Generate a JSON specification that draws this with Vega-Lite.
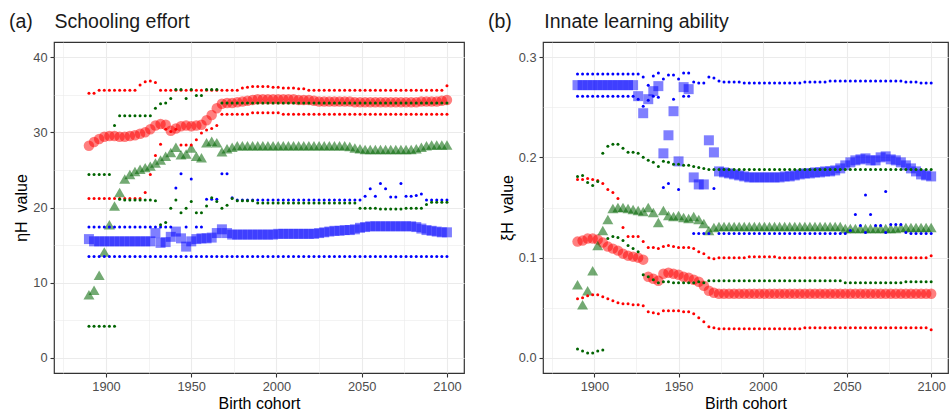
{
"$schema":"https://vega.github.io/schema/vega-lite/v6.json",
"background":"white",
"autosize":{"type":"pad"},
"padding":{"left":8,"top":10,"right":1,"bottom":2},
"config":{
 "font":"Liberation Sans",
 "view":{"stroke":"#333333","strokeWidth":1.2},
 "axis":{"domain":false,"gridColor":"#ebebeb","tickColor":"#333333","tickSize":4,"tickWidth":1.1,"labelColor":"#4d4d4d","labelFontSize":12.8,"titleFontSize":16,"titleFontWeight":"normal","titleColor":"#000000","labelPadding":3,"titlePadding":3,"labelOverlap":false},
 "title":{"fontSize":19.5,"fontWeight":"normal","color":"#1a1a1a"},
 "concat":{"spacing":22}
},
"datasets":{
"aRc":[{"x":1890,"y":28.2},{"x":1893,"y":28.7},{"x":1896,"y":29.1},{"x":1899,"y":29.4},{"x":1902,"y":29.5},{"x":1905,"y":29.5},{"x":1908,"y":29.4},{"x":1911,"y":29.4},{"x":1914,"y":29.5},{"x":1917,"y":29.6},{"x":1920,"y":29.8},{"x":1923,"y":30.0},{"x":1926,"y":30.4},{"x":1929,"y":30.9},{"x":1932,"y":31.1},{"x":1935,"y":31.0},{"x":1938,"y":30.2},{"x":1941,"y":30.5},{"x":1944,"y":30.8},{"x":1947,"y":30.9},{"x":1950,"y":30.8},{"x":1953,"y":30.9},{"x":1956,"y":31.0},{"x":1959,"y":31.6},{"x":1962,"y":32.3},{"x":1965,"y":33.2},{"x":1968,"y":33.8},{"x":1971,"y":33.9},{"x":1974,"y":33.9},{"x":1977,"y":34.0},{"x":1980,"y":34.1},{"x":1983,"y":34.2},{"x":1986,"y":34.3},{"x":1989,"y":34.4},{"x":1992,"y":34.4},{"x":1995,"y":34.4},{"x":1998,"y":34.4},{"x":2001,"y":34.4},{"x":2004,"y":34.4},{"x":2007,"y":34.4},{"x":2010,"y":34.4},{"x":2013,"y":34.3},{"x":2016,"y":34.3},{"x":2019,"y":34.3},{"x":2022,"y":34.2},{"x":2025,"y":34.1},{"x":2028,"y":34.1},{"x":2031,"y":34.1},{"x":2034,"y":34.1},{"x":2037,"y":34.1},{"x":2040,"y":34.1},{"x":2043,"y":34.1},{"x":2046,"y":34.0},{"x":2049,"y":34.0},{"x":2052,"y":34.0},{"x":2055,"y":34.0},{"x":2058,"y":34.0},{"x":2061,"y":34.0},{"x":2064,"y":34.0},{"x":2067,"y":34.0},{"x":2070,"y":34.0},{"x":2073,"y":34.0},{"x":2076,"y":34.0},{"x":2079,"y":34.0},{"x":2082,"y":34.0},{"x":2085,"y":34.1},{"x":2088,"y":34.1},{"x":2091,"y":34.1},{"x":2094,"y":34.1},{"x":2097,"y":34.2},{"x":2100,"y":34.3}],
"aRd":[{"x":1890,"y":35.2},{"x":1893,"y":35.2},{"x":1896,"y":35.6},{"x":1899,"y":35.6},{"x":1902,"y":35.6},{"x":1905,"y":35.6},{"x":1908,"y":35.6},{"x":1911,"y":35.6},{"x":1914,"y":35.6},{"x":1917,"y":35.6},{"x":1920,"y":36.3},{"x":1923,"y":36.7},{"x":1926,"y":36.8},{"x":1929,"y":36.6},{"x":1932,"y":35.6},{"x":1935,"y":35.6},{"x":1938,"y":35.6},{"x":1941,"y":35.6},{"x":1944,"y":35.6},{"x":1947,"y":35.6},{"x":1950,"y":35.6},{"x":1953,"y":35.6},{"x":1956,"y":35.6},{"x":1959,"y":35.6},{"x":1962,"y":35.6},{"x":1965,"y":35.6},{"x":1968,"y":35.6},{"x":1971,"y":35.6},{"x":1974,"y":35.6},{"x":1977,"y":35.6},{"x":1980,"y":35.9},{"x":1983,"y":36.0},{"x":1986,"y":36.1},{"x":1989,"y":36.1},{"x":1992,"y":36.1},{"x":1995,"y":36.1},{"x":1998,"y":36.0},{"x":2001,"y":36.0},{"x":2004,"y":35.9},{"x":2007,"y":35.9},{"x":2010,"y":35.9},{"x":2013,"y":35.8},{"x":2016,"y":35.8},{"x":2019,"y":35.6},{"x":2022,"y":35.6},{"x":2025,"y":35.6},{"x":2028,"y":35.6},{"x":2031,"y":35.6},{"x":2034,"y":35.6},{"x":2037,"y":35.6},{"x":2040,"y":35.6},{"x":2043,"y":35.6},{"x":2046,"y":35.6},{"x":2049,"y":35.6},{"x":2052,"y":35.6},{"x":2055,"y":35.6},{"x":2058,"y":35.6},{"x":2061,"y":35.6},{"x":2064,"y":35.6},{"x":2067,"y":35.6},{"x":2070,"y":35.6},{"x":2073,"y":35.6},{"x":2076,"y":35.6},{"x":2079,"y":35.6},{"x":2082,"y":35.6},{"x":2085,"y":35.6},{"x":2088,"y":35.6},{"x":2091,"y":35.6},{"x":2094,"y":35.6},{"x":2097,"y":35.6},{"x":2100,"y":36.2},
{"x":1890,"y":21.2},{"x":1893,"y":21.2},{"x":1896,"y":21.2},{"x":1899,"y":21.2},{"x":1902,"y":21.2},{"x":1905,"y":21.2},{"x":1908,"y":21.2},{"x":1911,"y":21.2},{"x":1914,"y":21.2},{"x":1917,"y":21.2},{"x":1920,"y":21.2},{"x":1923,"y":22.0},{"x":1926,"y":24.4},{"x":1929,"y":26.9},{"x":1932,"y":28.4},{"x":1935,"y":30.4},{"x":1938,"y":30.1},{"x":1941,"y":30.4},{"x":1944,"y":28.3},{"x":1947,"y":28.3},{"x":1950,"y":28.3},{"x":1953,"y":29.0},{"x":1956,"y":29.9},{"x":1959,"y":30.3},{"x":1962,"y":30.5},{"x":1965,"y":30.9},{"x":1968,"y":32.4},{"x":1971,"y":32.4},{"x":1974,"y":32.4},{"x":1977,"y":32.4},{"x":1980,"y":32.4},{"x":1983,"y":32.4},{"x":1986,"y":32.6},{"x":1989,"y":32.6},{"x":1992,"y":32.6},{"x":1995,"y":32.6},{"x":1998,"y":32.6},{"x":2001,"y":32.6},{"x":2004,"y":32.4},{"x":2007,"y":32.4},{"x":2010,"y":32.4},{"x":2013,"y":32.4},{"x":2016,"y":32.4},{"x":2019,"y":32.4},{"x":2022,"y":32.4},{"x":2025,"y":32.4},{"x":2028,"y":32.4},{"x":2031,"y":32.4},{"x":2034,"y":32.4},{"x":2037,"y":32.4},{"x":2040,"y":32.4},{"x":2043,"y":32.4},{"x":2046,"y":32.4},{"x":2049,"y":32.4},{"x":2052,"y":32.4},{"x":2055,"y":32.4},{"x":2058,"y":32.4},{"x":2061,"y":32.4},{"x":2064,"y":32.4},{"x":2067,"y":32.4},{"x":2070,"y":32.4},{"x":2073,"y":32.4},{"x":2076,"y":32.4},{"x":2079,"y":32.4},{"x":2082,"y":32.4},{"x":2085,"y":32.4},{"x":2088,"y":32.4},{"x":2091,"y":32.4},{"x":2094,"y":32.4},{"x":2097,"y":32.4},{"x":2100,"y":32.4}],
"aGc":[{"x":1890,"y":8.4},{"x":1893,"y":9.0},{"x":1896,"y":11.0},{"x":1899,"y":14.1},{"x":1902,"y":17.7},{"x":1905,"y":20.2},{"x":1908,"y":22.0},{"x":1911,"y":23.8},{"x":1914,"y":24.4},{"x":1917,"y":24.8},{"x":1920,"y":25.1},{"x":1923,"y":25.3},{"x":1926,"y":25.5},{"x":1929,"y":25.9},{"x":1932,"y":26.3},{"x":1935,"y":26.8},{"x":1938,"y":27.3},{"x":1941,"y":28.0},{"x":1944,"y":27.0},{"x":1947,"y":27.1},{"x":1950,"y":27.9},{"x":1953,"y":26.8},{"x":1956,"y":26.6},{"x":1959,"y":28.6},{"x":1962,"y":28.8},{"x":1965,"y":28.6},{"x":1968,"y":27.4},{"x":1971,"y":27.8},{"x":1974,"y":28.0},{"x":1977,"y":28.2},{"x":1980,"y":28.2},{"x":1983,"y":28.2},{"x":1986,"y":28.2},{"x":1989,"y":28.2},{"x":1992,"y":28.2},{"x":1995,"y":28.2},{"x":1998,"y":28.2},{"x":2001,"y":28.2},{"x":2004,"y":28.2},{"x":2007,"y":28.2},{"x":2010,"y":28.2},{"x":2013,"y":28.2},{"x":2016,"y":28.2},{"x":2019,"y":28.2},{"x":2022,"y":28.2},{"x":2025,"y":28.2},{"x":2028,"y":28.2},{"x":2031,"y":28.2},{"x":2034,"y":28.2},{"x":2037,"y":28.2},{"x":2040,"y":28.2},{"x":2043,"y":28.1},{"x":2046,"y":27.9},{"x":2049,"y":27.8},{"x":2052,"y":27.7},{"x":2055,"y":27.7},{"x":2058,"y":27.7},{"x":2061,"y":27.7},{"x":2064,"y":27.7},{"x":2067,"y":27.7},{"x":2070,"y":27.7},{"x":2073,"y":27.7},{"x":2076,"y":27.7},{"x":2079,"y":27.7},{"x":2082,"y":27.8},{"x":2085,"y":28.0},{"x":2088,"y":28.2},{"x":2091,"y":28.3},{"x":2094,"y":28.3},{"x":2097,"y":28.3},{"x":2100,"y":28.3}],
"aGd":[{"x":1890,"y":24.4},{"x":1893,"y":24.4},{"x":1896,"y":24.4},{"x":1899,"y":24.4},{"x":1902,"y":24.4},{"x":1905,"y":30.9},{"x":1908,"y":32.2},{"x":1911,"y":32.2},{"x":1914,"y":32.2},{"x":1917,"y":32.2},{"x":1920,"y":32.2},{"x":1923,"y":32.2},{"x":1926,"y":32.2},{"x":1929,"y":33.2},{"x":1932,"y":33.8},{"x":1935,"y":33.9},{"x":1938,"y":34.5},{"x":1941,"y":35.7},{"x":1944,"y":35.7},{"x":1947,"y":34.5},{"x":1950,"y":35.7},{"x":1953,"y":34.9},{"x":1956,"y":34.9},{"x":1959,"y":35.7},{"x":1962,"y":35.7},{"x":1965,"y":35.7},{"x":1968,"y":33.9},{"x":1971,"y":33.9},{"x":1974,"y":33.9},{"x":1977,"y":33.9},{"x":1980,"y":33.9},{"x":1983,"y":33.9},{"x":1986,"y":33.9},{"x":1989,"y":33.9},{"x":1992,"y":33.9},{"x":1995,"y":33.9},{"x":1998,"y":33.9},{"x":2001,"y":33.9},{"x":2004,"y":33.9},{"x":2007,"y":33.9},{"x":2010,"y":33.9},{"x":2013,"y":33.9},{"x":2016,"y":33.9},{"x":2019,"y":33.9},{"x":2022,"y":33.9},{"x":2025,"y":33.9},{"x":2028,"y":33.9},{"x":2031,"y":33.9},{"x":2034,"y":33.9},{"x":2037,"y":33.9},{"x":2040,"y":33.9},{"x":2043,"y":33.9},{"x":2046,"y":33.9},{"x":2049,"y":33.9},{"x":2052,"y":33.9},{"x":2055,"y":33.9},{"x":2058,"y":33.9},{"x":2061,"y":33.9},{"x":2064,"y":33.9},{"x":2067,"y":33.9},{"x":2070,"y":33.9},{"x":2073,"y":33.9},{"x":2076,"y":33.9},{"x":2079,"y":33.9},{"x":2082,"y":33.9},{"x":2085,"y":33.9},{"x":2088,"y":33.9},{"x":2091,"y":33.9},{"x":2094,"y":33.9},{"x":2097,"y":33.9},{"x":2100,"y":33.9},
{"x":1890,"y":4.2},{"x":1893,"y":4.2},{"x":1896,"y":4.2},{"x":1899,"y":4.2},{"x":1902,"y":4.2},{"x":1905,"y":4.2},{"x":1908,"y":21.1},{"x":1911,"y":21.0},{"x":1914,"y":21.0},{"x":1917,"y":21.0},{"x":1920,"y":21.0},{"x":1923,"y":21.0},{"x":1926,"y":21.0},{"x":1929,"y":20.9},{"x":1932,"y":17.7},{"x":1935,"y":18.0},{"x":1938,"y":19.9},{"x":1941,"y":21.0},{"x":1944,"y":19.3},{"x":1947,"y":19.9},{"x":1950,"y":20.8},{"x":1953,"y":19.3},{"x":1956,"y":19.3},{"x":1959,"y":20.2},{"x":1962,"y":21.3},{"x":1965,"y":20.8},{"x":1968,"y":19.9},{"x":1971,"y":20.3},{"x":1974,"y":21.2},{"x":1977,"y":20.9},{"x":1980,"y":20.9},{"x":1983,"y":20.9},{"x":1986,"y":20.9},{"x":1989,"y":20.6},{"x":1992,"y":20.6},{"x":1995,"y":20.6},{"x":1998,"y":20.6},{"x":2001,"y":20.6},{"x":2004,"y":20.6},{"x":2007,"y":20.6},{"x":2010,"y":20.6},{"x":2013,"y":20.6},{"x":2016,"y":20.6},{"x":2019,"y":20.6},{"x":2022,"y":20.6},{"x":2025,"y":20.6},{"x":2028,"y":20.6},{"x":2031,"y":20.6},{"x":2034,"y":20.6},{"x":2037,"y":20.6},{"x":2040,"y":20.6},{"x":2043,"y":20.6},{"x":2046,"y":20.6},{"x":2049,"y":19.9},{"x":2052,"y":19.9},{"x":2055,"y":19.9},{"x":2058,"y":19.9},{"x":2061,"y":19.8},{"x":2064,"y":19.8},{"x":2067,"y":19.8},{"x":2070,"y":19.8},{"x":2073,"y":19.8},{"x":2076,"y":19.9},{"x":2079,"y":19.9},{"x":2082,"y":19.9},{"x":2085,"y":19.9},{"x":2088,"y":20.4},{"x":2091,"y":20.7},{"x":2094,"y":20.7},{"x":2097,"y":20.7},{"x":2100,"y":20.7}],
"aBc":[{"x":1890,"y":15.8},{"x":1893,"y":15.5},{"x":1896,"y":15.5},{"x":1899,"y":15.5},{"x":1902,"y":15.5},{"x":1905,"y":15.5},{"x":1908,"y":15.5},{"x":1911,"y":15.5},{"x":1914,"y":15.5},{"x":1917,"y":15.5},{"x":1920,"y":15.5},{"x":1923,"y":15.5},{"x":1926,"y":15.5},{"x":1929,"y":16.6},{"x":1932,"y":15.3},{"x":1935,"y":15.4},{"x":1938,"y":16.1},{"x":1941,"y":16.8},{"x":1944,"y":15.9},{"x":1947,"y":14.8},{"x":1950,"y":15.5},{"x":1953,"y":15.8},{"x":1956,"y":15.9},{"x":1959,"y":15.9},{"x":1962,"y":16.0},{"x":1965,"y":16.6},{"x":1968,"y":17.1},{"x":1971,"y":16.6},{"x":1974,"y":16.4},{"x":1977,"y":16.4},{"x":1980,"y":16.4},{"x":1983,"y":16.4},{"x":1986,"y":16.4},{"x":1989,"y":16.4},{"x":1992,"y":16.4},{"x":1995,"y":16.4},{"x":1998,"y":16.4},{"x":2001,"y":16.5},{"x":2004,"y":16.5},{"x":2007,"y":16.5},{"x":2010,"y":16.5},{"x":2013,"y":16.5},{"x":2016,"y":16.5},{"x":2019,"y":16.5},{"x":2022,"y":16.5},{"x":2025,"y":16.6},{"x":2028,"y":16.7},{"x":2031,"y":16.8},{"x":2034,"y":16.9},{"x":2037,"y":16.9},{"x":2040,"y":17.0},{"x":2043,"y":17.0},{"x":2046,"y":17.1},{"x":2049,"y":17.3},{"x":2052,"y":17.4},{"x":2055,"y":17.5},{"x":2058,"y":17.5},{"x":2061,"y":17.5},{"x":2064,"y":17.5},{"x":2067,"y":17.5},{"x":2070,"y":17.5},{"x":2073,"y":17.5},{"x":2076,"y":17.5},{"x":2079,"y":17.5},{"x":2082,"y":17.4},{"x":2085,"y":17.2},{"x":2088,"y":17.0},{"x":2091,"y":16.9},{"x":2094,"y":16.8},{"x":2097,"y":16.7},{"x":2100,"y":16.7}],
"aBd":[{"x":1890,"y":13.5},{"x":1893,"y":13.5},{"x":1896,"y":13.5},{"x":1899,"y":13.5},{"x":1902,"y":13.5},{"x":1905,"y":13.5},{"x":1908,"y":13.5},{"x":1911,"y":13.5},{"x":1914,"y":13.5},{"x":1917,"y":13.5},{"x":1920,"y":13.5},{"x":1923,"y":13.5},{"x":1926,"y":13.5},{"x":1929,"y":13.5},{"x":1932,"y":13.5},{"x":1935,"y":13.5},{"x":1938,"y":13.5},{"x":1941,"y":13.5},{"x":1944,"y":13.5},{"x":1947,"y":13.5},{"x":1950,"y":13.5},{"x":1953,"y":13.5},{"x":1956,"y":13.5},{"x":1959,"y":13.5},{"x":1962,"y":13.5},{"x":1965,"y":13.5},{"x":1968,"y":13.5},{"x":1971,"y":13.5},{"x":1974,"y":13.5},{"x":1977,"y":13.5},{"x":1980,"y":13.5},{"x":1983,"y":13.5},{"x":1986,"y":13.5},{"x":1989,"y":13.5},{"x":1992,"y":13.5},{"x":1995,"y":13.5},{"x":1998,"y":13.5},{"x":2001,"y":13.5},{"x":2004,"y":13.5},{"x":2007,"y":13.5},{"x":2010,"y":13.5},{"x":2013,"y":13.5},{"x":2016,"y":13.5},{"x":2019,"y":13.5},{"x":2022,"y":13.5},{"x":2025,"y":13.5},{"x":2028,"y":13.5},{"x":2031,"y":13.5},{"x":2034,"y":13.5},{"x":2037,"y":13.5},{"x":2040,"y":13.5},{"x":2043,"y":13.5},{"x":2046,"y":13.5},{"x":2049,"y":13.5},{"x":2052,"y":13.5},{"x":2055,"y":13.5},{"x":2058,"y":13.5},{"x":2061,"y":13.5},{"x":2064,"y":13.5},{"x":2067,"y":13.5},{"x":2070,"y":13.5},{"x":2073,"y":13.5},{"x":2076,"y":13.5},{"x":2079,"y":13.5},{"x":2082,"y":13.5},{"x":2085,"y":13.5},{"x":2088,"y":13.5},{"x":2091,"y":13.5},{"x":2094,"y":13.5},{"x":2097,"y":13.5},{"x":2100,"y":13.5},
{"x":1890,"y":17.4},{"x":1893,"y":17.4},{"x":1896,"y":17.4},{"x":1899,"y":17.4},{"x":1902,"y":17.4},{"x":1905,"y":17.4},{"x":1908,"y":17.4},{"x":1911,"y":17.4},{"x":1914,"y":17.4},{"x":1917,"y":17.4},{"x":1920,"y":17.4},{"x":1923,"y":17.4},{"x":1926,"y":17.4},{"x":1929,"y":17.4},{"x":1932,"y":17.4},{"x":1935,"y":17.4},{"x":1938,"y":17.4},{"x":1941,"y":22.6},{"x":1944,"y":24.5},{"x":1947,"y":17.4},{"x":1950,"y":23.8},{"x":1953,"y":17.4},{"x":1956,"y":17.4},{"x":1959,"y":21.1},{"x":1962,"y":21.1},{"x":1965,"y":21.1},{"x":1968,"y":24.5},{"x":1971,"y":24.5},{"x":1974,"y":21.3},{"x":1977,"y":21.0},{"x":1980,"y":21.0},{"x":1983,"y":21.0},{"x":1986,"y":21.0},{"x":1989,"y":21.0},{"x":1992,"y":21.0},{"x":1995,"y":21.0},{"x":1998,"y":21.0},{"x":2001,"y":21.0},{"x":2004,"y":21.0},{"x":2007,"y":21.0},{"x":2010,"y":21.0},{"x":2013,"y":21.0},{"x":2016,"y":21.0},{"x":2019,"y":21.0},{"x":2022,"y":21.0},{"x":2025,"y":21.0},{"x":2028,"y":21.0},{"x":2031,"y":21.0},{"x":2034,"y":21.0},{"x":2037,"y":21.0},{"x":2040,"y":21.0},{"x":2043,"y":21.0},{"x":2046,"y":21.0},{"x":2049,"y":21.0},{"x":2052,"y":21.5},{"x":2055,"y":22.5},{"x":2058,"y":21.5},{"x":2061,"y":23.2},{"x":2064,"y":22.5},{"x":2067,"y":21.4},{"x":2070,"y":21.4},{"x":2073,"y":23.2},{"x":2076,"y":21.5},{"x":2079,"y":21.5},{"x":2082,"y":21.6},{"x":2085,"y":21.8},{"x":2088,"y":21.0},{"x":2091,"y":21.0},{"x":2094,"y":21.0},{"x":2097,"y":21.0},{"x":2100,"y":21.0}],
"bRc":[{"x":1890,"y":0.116},{"x":1893,"y":0.117},{"x":1896,"y":0.119},{"x":1899,"y":0.119},{"x":1902,"y":0.118},{"x":1905,"y":0.115},{"x":1908,"y":0.111},{"x":1911,"y":0.109},{"x":1914,"y":0.107},{"x":1917,"y":0.104},{"x":1920,"y":0.102},{"x":1923,"y":0.101},{"x":1926,"y":0.100},{"x":1929,"y":0.098},{"x":1932,"y":0.081},{"x":1935,"y":0.079},{"x":1938,"y":0.077},{"x":1941,"y":0.084},{"x":1944,"y":0.085},{"x":1947,"y":0.084},{"x":1950,"y":0.083},{"x":1953,"y":0.081},{"x":1956,"y":0.080},{"x":1959,"y":0.078},{"x":1962,"y":0.076},{"x":1965,"y":0.072},{"x":1968,"y":0.067},{"x":1971,"y":0.065},{"x":1974,"y":0.064},{"x":1977,"y":0.064},{"x":1980,"y":0.064},{"x":1983,"y":0.064},{"x":1986,"y":0.064},{"x":1989,"y":0.064},{"x":1992,"y":0.064},{"x":1995,"y":0.064},{"x":1998,"y":0.064},{"x":2001,"y":0.064},{"x":2004,"y":0.064},{"x":2007,"y":0.064},{"x":2010,"y":0.064},{"x":2013,"y":0.064},{"x":2016,"y":0.064},{"x":2019,"y":0.064},{"x":2022,"y":0.064},{"x":2025,"y":0.064},{"x":2028,"y":0.064},{"x":2031,"y":0.064},{"x":2034,"y":0.064},{"x":2037,"y":0.064},{"x":2040,"y":0.064},{"x":2043,"y":0.064},{"x":2046,"y":0.064},{"x":2049,"y":0.064},{"x":2052,"y":0.064},{"x":2055,"y":0.064},{"x":2058,"y":0.064},{"x":2061,"y":0.064},{"x":2064,"y":0.064},{"x":2067,"y":0.064},{"x":2070,"y":0.064},{"x":2073,"y":0.064},{"x":2076,"y":0.064},{"x":2079,"y":0.064},{"x":2082,"y":0.064},{"x":2085,"y":0.064},{"x":2088,"y":0.064},{"x":2091,"y":0.064},{"x":2094,"y":0.064},{"x":2097,"y":0.064},{"x":2100,"y":0.064}],
"bRd":[{"x":1890,"y":0.178},{"x":1893,"y":0.178},{"x":1896,"y":0.179},{"x":1899,"y":0.178},{"x":1902,"y":0.177},{"x":1905,"y":0.174},{"x":1908,"y":0.168},{"x":1911,"y":0.165},{"x":1914,"y":0.159},{"x":1917,"y":0.130},{"x":1920,"y":0.121},{"x":1923,"y":0.121},{"x":1926,"y":0.121},{"x":1929,"y":0.116},{"x":1932,"y":0.110},{"x":1935,"y":0.110},{"x":1938,"y":0.109},{"x":1941,"y":0.111},{"x":1944,"y":0.112},{"x":1947,"y":0.111},{"x":1950,"y":0.110},{"x":1953,"y":0.110},{"x":1956,"y":0.110},{"x":1959,"y":0.109},{"x":1962,"y":0.106},{"x":1965,"y":0.104},{"x":1968,"y":0.100},{"x":1971,"y":0.099},{"x":1974,"y":0.100},{"x":1977,"y":0.100},{"x":1980,"y":0.100},{"x":1983,"y":0.100},{"x":1986,"y":0.100},{"x":1989,"y":0.100},{"x":1992,"y":0.101},{"x":1995,"y":0.101},{"x":1998,"y":0.101},{"x":2001,"y":0.101},{"x":2004,"y":0.101},{"x":2007,"y":0.101},{"x":2010,"y":0.100},{"x":2013,"y":0.100},{"x":2016,"y":0.100},{"x":2019,"y":0.100},{"x":2022,"y":0.100},{"x":2025,"y":0.100},{"x":2028,"y":0.100},{"x":2031,"y":0.100},{"x":2034,"y":0.100},{"x":2037,"y":0.100},{"x":2040,"y":0.100},{"x":2043,"y":0.100},{"x":2046,"y":0.100},{"x":2049,"y":0.100},{"x":2052,"y":0.100},{"x":2055,"y":0.100},{"x":2058,"y":0.100},{"x":2061,"y":0.100},{"x":2064,"y":0.100},{"x":2067,"y":0.100},{"x":2070,"y":0.100},{"x":2073,"y":0.100},{"x":2076,"y":0.100},{"x":2079,"y":0.100},{"x":2082,"y":0.100},{"x":2085,"y":0.100},{"x":2088,"y":0.100},{"x":2091,"y":0.100},{"x":2094,"y":0.100},{"x":2097,"y":0.100},{"x":2100,"y":0.102},
{"x":1890,"y":0.059},{"x":1893,"y":0.060},{"x":1896,"y":0.062},{"x":1899,"y":0.063},{"x":1902,"y":0.063},{"x":1905,"y":0.061},{"x":1908,"y":0.059},{"x":1911,"y":0.057},{"x":1914,"y":0.055},{"x":1917,"y":0.054},{"x":1920,"y":0.054},{"x":1923,"y":0.053},{"x":1926,"y":0.053},{"x":1929,"y":0.052},{"x":1932,"y":0.046},{"x":1935,"y":0.045},{"x":1938,"y":0.044},{"x":1941,"y":0.047},{"x":1944,"y":0.047},{"x":1947,"y":0.047},{"x":1950,"y":0.047},{"x":1953,"y":0.046},{"x":1956,"y":0.046},{"x":1959,"y":0.044},{"x":1962,"y":0.040},{"x":1965,"y":0.036},{"x":1968,"y":0.031},{"x":1971,"y":0.030},{"x":1974,"y":0.029},{"x":1977,"y":0.029},{"x":1980,"y":0.029},{"x":1983,"y":0.029},{"x":1986,"y":0.029},{"x":1989,"y":0.029},{"x":1992,"y":0.029},{"x":1995,"y":0.029},{"x":1998,"y":0.029},{"x":2001,"y":0.029},{"x":2004,"y":0.029},{"x":2007,"y":0.029},{"x":2010,"y":0.029},{"x":2013,"y":0.029},{"x":2016,"y":0.029},{"x":2019,"y":0.029},{"x":2022,"y":0.029},{"x":2025,"y":0.030},{"x":2028,"y":0.030},{"x":2031,"y":0.030},{"x":2034,"y":0.030},{"x":2037,"y":0.030},{"x":2040,"y":0.030},{"x":2043,"y":0.030},{"x":2046,"y":0.030},{"x":2049,"y":0.030},{"x":2052,"y":0.030},{"x":2055,"y":0.030},{"x":2058,"y":0.030},{"x":2061,"y":0.030},{"x":2064,"y":0.030},{"x":2067,"y":0.030},{"x":2070,"y":0.030},{"x":2073,"y":0.030},{"x":2076,"y":0.030},{"x":2079,"y":0.030},{"x":2082,"y":0.030},{"x":2085,"y":0.030},{"x":2088,"y":0.030},{"x":2091,"y":0.030},{"x":2094,"y":0.030},{"x":2097,"y":0.030},{"x":2100,"y":0.028}],
"bGc":[{"x":1890,"y":0.073},{"x":1893,"y":0.053},{"x":1896,"y":0.067},{"x":1899,"y":0.087},{"x":1902,"y":0.112},{"x":1905,"y":0.127},{"x":1908,"y":0.138},{"x":1911,"y":0.149},{"x":1914,"y":0.150},{"x":1917,"y":0.150},{"x":1920,"y":0.149},{"x":1923,"y":0.148},{"x":1926,"y":0.147},{"x":1929,"y":0.146},{"x":1932,"y":0.150},{"x":1935,"y":0.145},{"x":1938,"y":0.135},{"x":1941,"y":0.147},{"x":1944,"y":0.142},{"x":1947,"y":0.141},{"x":1950,"y":0.142},{"x":1953,"y":0.140},{"x":1956,"y":0.139},{"x":1959,"y":0.141},{"x":1962,"y":0.138},{"x":1965,"y":0.134},{"x":1968,"y":0.127},{"x":1971,"y":0.130},{"x":1974,"y":0.131},{"x":1977,"y":0.131},{"x":1980,"y":0.131},{"x":1983,"y":0.131},{"x":1986,"y":0.131},{"x":1989,"y":0.131},{"x":1992,"y":0.131},{"x":1995,"y":0.131},{"x":1998,"y":0.131},{"x":2001,"y":0.131},{"x":2004,"y":0.131},{"x":2007,"y":0.131},{"x":2010,"y":0.131},{"x":2013,"y":0.131},{"x":2016,"y":0.131},{"x":2019,"y":0.131},{"x":2022,"y":0.131},{"x":2025,"y":0.131},{"x":2028,"y":0.131},{"x":2031,"y":0.131},{"x":2034,"y":0.131},{"x":2037,"y":0.131},{"x":2040,"y":0.131},{"x":2043,"y":0.131},{"x":2046,"y":0.131},{"x":2049,"y":0.129},{"x":2052,"y":0.129},{"x":2055,"y":0.129},{"x":2058,"y":0.129},{"x":2061,"y":0.129},{"x":2064,"y":0.129},{"x":2067,"y":0.129},{"x":2070,"y":0.129},{"x":2073,"y":0.129},{"x":2076,"y":0.129},{"x":2079,"y":0.129},{"x":2082,"y":0.130},{"x":2085,"y":0.130},{"x":2088,"y":0.130},{"x":2091,"y":0.130},{"x":2094,"y":0.130},{"x":2097,"y":0.130},{"x":2100,"y":0.130}],
"bGd":[{"x":1890,"y":0.181},{"x":1893,"y":0.182},{"x":1896,"y":0.175},{"x":1899,"y":0.172},{"x":1902,"y":0.176},{"x":1905,"y":0.204},{"x":1908,"y":0.211},{"x":1911,"y":0.213},{"x":1914,"y":0.213},{"x":1917,"y":0.209},{"x":1920,"y":0.205},{"x":1923,"y":0.205},{"x":1926,"y":0.204},{"x":1929,"y":0.200},{"x":1932,"y":0.197},{"x":1935,"y":0.195},{"x":1938,"y":0.191},{"x":1941,"y":0.196},{"x":1944,"y":0.195},{"x":1947,"y":0.193},{"x":1950,"y":0.193},{"x":1953,"y":0.192},{"x":1956,"y":0.192},{"x":1959,"y":0.191},{"x":1962,"y":0.190},{"x":1965,"y":0.189},{"x":1968,"y":0.188},{"x":1971,"y":0.188},{"x":1974,"y":0.188},{"x":1977,"y":0.188},{"x":1980,"y":0.188},{"x":1983,"y":0.188},{"x":1986,"y":0.188},{"x":1989,"y":0.188},{"x":1992,"y":0.188},{"x":1995,"y":0.188},{"x":1998,"y":0.188},{"x":2001,"y":0.188},{"x":2004,"y":0.188},{"x":2007,"y":0.188},{"x":2010,"y":0.188},{"x":2013,"y":0.188},{"x":2016,"y":0.188},{"x":2019,"y":0.188},{"x":2022,"y":0.188},{"x":2025,"y":0.188},{"x":2028,"y":0.188},{"x":2031,"y":0.188},{"x":2034,"y":0.188},{"x":2037,"y":0.188},{"x":2040,"y":0.188},{"x":2043,"y":0.188},{"x":2046,"y":0.188},{"x":2049,"y":0.188},{"x":2052,"y":0.188},{"x":2055,"y":0.188},{"x":2058,"y":0.188},{"x":2061,"y":0.188},{"x":2064,"y":0.188},{"x":2067,"y":0.188},{"x":2070,"y":0.188},{"x":2073,"y":0.188},{"x":2076,"y":0.188},{"x":2079,"y":0.188},{"x":2082,"y":0.188},{"x":2085,"y":0.188},{"x":2088,"y":0.188},{"x":2091,"y":0.188},{"x":2094,"y":0.188},{"x":2097,"y":0.188},{"x":2100,"y":0.188},
{"x":1890,"y":0.009},{"x":1893,"y":0.007},{"x":1896,"y":0.005},{"x":1899,"y":0.005},{"x":1902,"y":0.007},{"x":1905,"y":0.008},{"x":1908,"y":0.119},{"x":1911,"y":0.121},{"x":1914,"y":0.120},{"x":1917,"y":0.117},{"x":1920,"y":0.112},{"x":1923,"y":0.109},{"x":1926,"y":0.106},{"x":1929,"y":0.083},{"x":1932,"y":0.081},{"x":1935,"y":0.078},{"x":1938,"y":0.075},{"x":1941,"y":0.076},{"x":1944,"y":0.076},{"x":1947,"y":0.075},{"x":1950,"y":0.075},{"x":1953,"y":0.075},{"x":1956,"y":0.075},{"x":1959,"y":0.075},{"x":1962,"y":0.076},{"x":1965,"y":0.075},{"x":1968,"y":0.077},{"x":1971,"y":0.077},{"x":1974,"y":0.077},{"x":1977,"y":0.077},{"x":1980,"y":0.077},{"x":1983,"y":0.077},{"x":1986,"y":0.077},{"x":1989,"y":0.077},{"x":1992,"y":0.077},{"x":1995,"y":0.077},{"x":1998,"y":0.077},{"x":2001,"y":0.077},{"x":2004,"y":0.077},{"x":2007,"y":0.077},{"x":2010,"y":0.077},{"x":2013,"y":0.077},{"x":2016,"y":0.077},{"x":2019,"y":0.077},{"x":2022,"y":0.077},{"x":2025,"y":0.077},{"x":2028,"y":0.077},{"x":2031,"y":0.077},{"x":2034,"y":0.077},{"x":2037,"y":0.077},{"x":2040,"y":0.077},{"x":2043,"y":0.077},{"x":2046,"y":0.077},{"x":2049,"y":0.075},{"x":2052,"y":0.075},{"x":2055,"y":0.075},{"x":2058,"y":0.075},{"x":2061,"y":0.075},{"x":2064,"y":0.075},{"x":2067,"y":0.075},{"x":2070,"y":0.075},{"x":2073,"y":0.075},{"x":2076,"y":0.075},{"x":2079,"y":0.075},{"x":2082,"y":0.075},{"x":2085,"y":0.076},{"x":2088,"y":0.076},{"x":2091,"y":0.076},{"x":2094,"y":0.076},{"x":2097,"y":0.076},{"x":2100,"y":0.076}],
"bBc":[{"x":1890,"y":0.272},{"x":1893,"y":0.272},{"x":1896,"y":0.272},{"x":1899,"y":0.272},{"x":1902,"y":0.272},{"x":1905,"y":0.272},{"x":1908,"y":0.272},{"x":1911,"y":0.272},{"x":1914,"y":0.272},{"x":1917,"y":0.272},{"x":1920,"y":0.272},{"x":1923,"y":0.272},{"x":1926,"y":0.261},{"x":1929,"y":0.244},{"x":1932,"y":0.258},{"x":1935,"y":0.266},{"x":1938,"y":0.271},{"x":1941,"y":0.204},{"x":1944,"y":0.222},{"x":1947,"y":0.246},{"x":1950,"y":0.196},{"x":1953,"y":0.270},{"x":1956,"y":0.268},{"x":1959,"y":0.180},{"x":1962,"y":0.173},{"x":1965,"y":0.173},{"x":1968,"y":0.217},{"x":1971,"y":0.205},{"x":1974,"y":0.186},{"x":1977,"y":0.185},{"x":1980,"y":0.184},{"x":1983,"y":0.183},{"x":1986,"y":0.182},{"x":1989,"y":0.181},{"x":1992,"y":0.180},{"x":1995,"y":0.180},{"x":1998,"y":0.180},{"x":2001,"y":0.180},{"x":2004,"y":0.180},{"x":2007,"y":0.180},{"x":2010,"y":0.180},{"x":2013,"y":0.181},{"x":2016,"y":0.181},{"x":2019,"y":0.182},{"x":2022,"y":0.183},{"x":2025,"y":0.184},{"x":2028,"y":0.184},{"x":2031,"y":0.185},{"x":2034,"y":0.185},{"x":2037,"y":0.186},{"x":2040,"y":0.186},{"x":2043,"y":0.187},{"x":2046,"y":0.189},{"x":2049,"y":0.192},{"x":2052,"y":0.195},{"x":2055,"y":0.197},{"x":2058,"y":0.198},{"x":2061,"y":0.199},{"x":2064,"y":0.197},{"x":2067,"y":0.197},{"x":2070,"y":0.200},{"x":2073,"y":0.201},{"x":2076,"y":0.198},{"x":2079,"y":0.197},{"x":2082,"y":0.195},{"x":2085,"y":0.192},{"x":2088,"y":0.189},{"x":2091,"y":0.186},{"x":2094,"y":0.183},{"x":2097,"y":0.182},{"x":2100,"y":0.181}],
"bBd":[{"x":1890,"y":0.283},{"x":1893,"y":0.283},{"x":1896,"y":0.283},{"x":1899,"y":0.283},{"x":1902,"y":0.283},{"x":1905,"y":0.283},{"x":1908,"y":0.283},{"x":1911,"y":0.283},{"x":1914,"y":0.283},{"x":1917,"y":0.283},{"x":1920,"y":0.283},{"x":1923,"y":0.283},{"x":1926,"y":0.283},{"x":1929,"y":0.280},{"x":1932,"y":0.272},{"x":1935,"y":0.281},{"x":1938,"y":0.284},{"x":1941,"y":0.278},{"x":1944,"y":0.282},{"x":1947,"y":0.282},{"x":1950,"y":0.278},{"x":1953,"y":0.284},{"x":1956,"y":0.284},{"x":1959,"y":0.275},{"x":1962,"y":0.274},{"x":1965,"y":0.274},{"x":1968,"y":0.280},{"x":1971,"y":0.279},{"x":1974,"y":0.276},{"x":1977,"y":0.275},{"x":1980,"y":0.275},{"x":1983,"y":0.275},{"x":1986,"y":0.275},{"x":1989,"y":0.274},{"x":1992,"y":0.274},{"x":1995,"y":0.274},{"x":1998,"y":0.274},{"x":2001,"y":0.274},{"x":2004,"y":0.274},{"x":2007,"y":0.274},{"x":2010,"y":0.274},{"x":2013,"y":0.274},{"x":2016,"y":0.274},{"x":2019,"y":0.274},{"x":2022,"y":0.274},{"x":2025,"y":0.275},{"x":2028,"y":0.275},{"x":2031,"y":0.275},{"x":2034,"y":0.275},{"x":2037,"y":0.275},{"x":2040,"y":0.276},{"x":2043,"y":0.276},{"x":2046,"y":0.276},{"x":2049,"y":0.276},{"x":2052,"y":0.276},{"x":2055,"y":0.276},{"x":2058,"y":0.276},{"x":2061,"y":0.276},{"x":2064,"y":0.276},{"x":2067,"y":0.276},{"x":2070,"y":0.276},{"x":2073,"y":0.276},{"x":2076,"y":0.276},{"x":2079,"y":0.276},{"x":2082,"y":0.276},{"x":2085,"y":0.275},{"x":2088,"y":0.275},{"x":2091,"y":0.275},{"x":2094,"y":0.274},{"x":2097,"y":0.274},{"x":2100,"y":0.274},
{"x":1890,"y":0.261},{"x":1893,"y":0.261},{"x":1896,"y":0.261},{"x":1899,"y":0.261},{"x":1902,"y":0.261},{"x":1905,"y":0.261},{"x":1908,"y":0.261},{"x":1911,"y":0.261},{"x":1914,"y":0.261},{"x":1917,"y":0.261},{"x":1920,"y":0.261},{"x":1923,"y":0.261},{"x":1926,"y":0.258},{"x":1929,"y":0.251},{"x":1932,"y":0.257},{"x":1935,"y":0.261},{"x":1938,"y":0.260},{"x":1941,"y":0.170},{"x":1944,"y":0.174},{"x":1947,"y":0.258},{"x":1950,"y":0.168},{"x":1953,"y":0.261},{"x":1956,"y":0.261},{"x":1959,"y":0.124},{"x":1962,"y":0.124},{"x":1965,"y":0.124},{"x":1968,"y":0.124},{"x":1971,"y":0.169},{"x":1974,"y":0.124},{"x":1977,"y":0.124},{"x":1980,"y":0.124},{"x":1983,"y":0.124},{"x":1986,"y":0.124},{"x":1989,"y":0.124},{"x":1992,"y":0.124},{"x":1995,"y":0.124},{"x":1998,"y":0.124},{"x":2001,"y":0.124},{"x":2004,"y":0.124},{"x":2007,"y":0.124},{"x":2010,"y":0.124},{"x":2013,"y":0.124},{"x":2016,"y":0.124},{"x":2019,"y":0.124},{"x":2022,"y":0.124},{"x":2025,"y":0.124},{"x":2028,"y":0.124},{"x":2031,"y":0.124},{"x":2034,"y":0.124},{"x":2037,"y":0.124},{"x":2040,"y":0.124},{"x":2043,"y":0.124},{"x":2046,"y":0.124},{"x":2049,"y":0.124},{"x":2052,"y":0.127},{"x":2055,"y":0.143},{"x":2058,"y":0.132},{"x":2061,"y":0.125},{"x":2064,"y":0.143},{"x":2067,"y":0.132},{"x":2070,"y":0.132},{"x":2073,"y":0.125},{"x":2076,"y":0.133},{"x":2079,"y":0.133},{"x":2082,"y":0.133},{"x":2085,"y":0.125},{"x":2088,"y":0.124},{"x":2091,"y":0.124},{"x":2094,"y":0.124},{"x":2097,"y":0.124},{"x":2100,"y":0.124},{"x":2061,"y":0.1625},{"x":2073,"y":0.166}]
},
"hconcat":[
{
 "width":410,"height":331,
 "title":{"text":"(a)\u00a0\u00a0\u00a0\u00a0Schooling effort","frame":"group","anchor":"start","dx":-45,"offset":-5,"baseline":"alphabetic"},
 "encoding":{
  "x":{"field":"x","type":"quantitative","scale":{"domain":[1869.5,2110],"nice":false,"zero":false},
   "axis":{"title":"Birth cohort","values":[1875,1900,1925,1950,1975,2000,2025,2050,2075,2100],"format":"d","labelExpr":"datum.value % 50 === 0 ? datum.label : ''","tickOpacity":{"condition":{"test":"datum.value % 50 !== 0","value":0},"value":1},"gridWidth":{"condition":{"test":"datum.value % 50 !== 0","value":0.6},"value":1.1}}},
  "y":{"field":"y","type":"quantitative","scale":{"domain":[-2,42],"nice":false,"zero":false},
   "axis":{"title":"ηH\u00a0 value","values":[0,5,10,15,20,25,30,35,40],"labelExpr":"datum.value % 10 === 0 ? datum.label : ''","tickOpacity":{"condition":{"test":"datum.value % 10 !== 0","value":0},"value":1},"gridWidth":{"condition":{"test":"datum.value % 10 !== 0","value":0.6},"value":1.1}}}
 },
 "layer":[
  {"data":{"name":"aRc"},"mark":{"type":"point","shape":"circle","filled":true,"size":110,"color":"#ff0000","opacity":0.5}},
  {"data":{"name":"aBc"},"mark":{"type":"point","shape":"square","filled":true,"size":100,"color":"#0000ff","opacity":0.5}},
  {"data":{"name":"aGc"},"mark":{"type":"point","shape":"triangle-up","filled":true,"size":120,"color":"#006400","opacity":0.55}},
  {"data":{"name":"aRd"},"mark":{"type":"circle","size":9,"color":"#ff0000","opacity":1}},
  {"data":{"name":"aBd"},"mark":{"type":"circle","size":9,"color":"#0000ff","opacity":1}},
  {"data":{"name":"aGd"},"mark":{"type":"circle","size":9,"color":"#006400","opacity":1}}
 ]
},
{
 "width":405,"height":331,
 "title":{"text":"(b)\u00a0\u00a0\u00a0\u00a0\u00a0\u00a0Innate learning ability","frame":"group","anchor":"start","dx":-55,"offset":-5,"baseline":"alphabetic"},
 "encoding":{
  "x":{"field":"x","type":"quantitative","scale":{"domain":[1869.5,2110],"nice":false,"zero":false},
   "axis":{"title":"Birth cohort","values":[1875,1900,1925,1950,1975,2000,2025,2050,2075,2100],"format":"d","labelExpr":"datum.value % 50 === 0 ? datum.label : ''","tickOpacity":{"condition":{"test":"datum.value % 50 !== 0","value":0},"value":1},"gridWidth":{"condition":{"test":"datum.value % 50 !== 0","value":0.6},"value":1.1}}},
  "y":{"field":"y","type":"quantitative","scale":{"domain":[-0.015,0.315],"nice":false,"zero":false},
   "axis":{"title":"ξH\u00a0 value","values":[0,0.05,0.1,0.15,0.2,0.25,0.3],"labelExpr":"round(datum.value*100) % 10 === 0 ? format(datum.value, '.1f') : ''","tickOpacity":{"condition":{"test":"round(datum.value*100) % 10 !== 0","value":0},"value":1},"gridWidth":{"condition":{"test":"round(datum.value*100) % 10 !== 0","value":0.6},"value":1.1}}}
 },
 "layer":[
  {"data":{"name":"bRc"},"mark":{"type":"point","shape":"circle","filled":true,"size":110,"color":"#ff0000","opacity":0.5}},
  {"data":{"name":"bBc"},"mark":{"type":"point","shape":"square","filled":true,"size":100,"color":"#0000ff","opacity":0.5}},
  {"data":{"name":"bGc"},"mark":{"type":"point","shape":"triangle-up","filled":true,"size":120,"color":"#006400","opacity":0.55}},
  {"data":{"name":"bRd"},"mark":{"type":"circle","size":9,"color":"#ff0000","opacity":1}},
  {"data":{"name":"bBd"},"mark":{"type":"circle","size":9,"color":"#0000ff","opacity":1}},
  {"data":{"name":"bGd"},"mark":{"type":"circle","size":9,"color":"#006400","opacity":1}}
 ]
}
]
}
